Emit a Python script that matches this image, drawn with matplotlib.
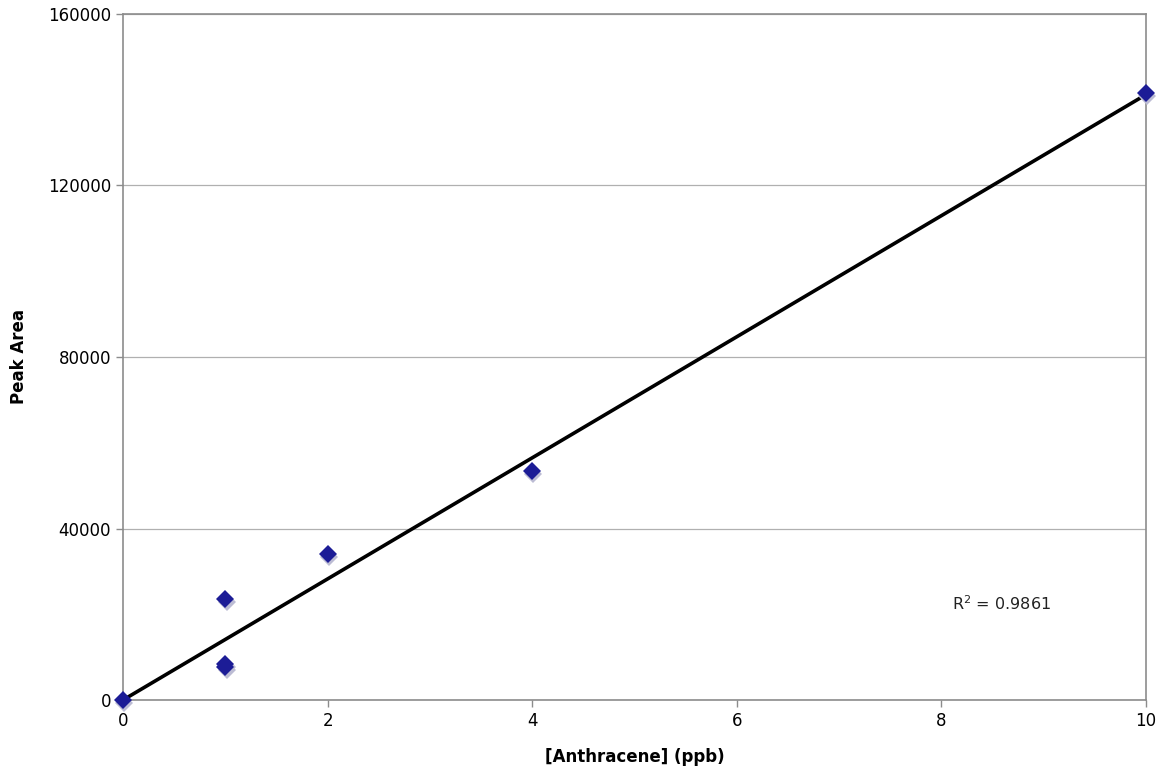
import numpy as np
import matplotlib.pyplot as plt

conc = [0, 1, 1, 1, 2, 4, 10]
area = [0, 23500, 8500, 7800, 34000, 53500, 141500]
r2_text = 'R$^2$ = 0.9861'

x = np.array(conc, dtype=float)
y = np.array(area, dtype=float)
slope = (x * y).sum() / (x * x).sum()

fig = plt.figure(figsize=(11.64, 7.74), dpi=100)
ax = fig.add_axes([123 / 1164, 74 / 774, 1023 / 1164, 686 / 774])

ax.set_xlim(0, 10)
ax.set_ylim(0, 160000)
ax.set_xticks([0, 2, 4, 6, 8, 10])
ax.set_yticks([0, 40000, 80000, 120000, 160000])
ax.yaxis.grid(True, color='#b0b0b0', linewidth=0.9)
ax.set_axisbelow(True)

for s in ax.spines.values():
    s.set_color('#8c8c8c')
    s.set_linewidth(1.2)
ax.tick_params(colors='#8c8c8c', labelcolor='black', labelsize=12,
               length=5, width=1.0, direction='out')

xs = np.array([0, 10])
ax.plot(xs, slope * xs, color='black', linewidth=2.6, zorder=3, clip_on=False)

# shadow then markers
ax.plot(x + 0.012, y - 700, 'D', color='#bcbcd4', markersize=9,
        markeredgewidth=0, zorder=4, clip_on=False)
ax.plot(x, y, 'D', color='#1c1c96', markersize=9,
        markeredgewidth=0, zorder=5, clip_on=False)

ax.text(8.1, 21000, r2_text, fontsize=11.5, color='#222222')

ax.set_xlabel('[Anthracene] (ppb)', fontsize=12, fontweight='bold', labelpad=13)
ax.set_ylabel('Peak Area', fontsize=12, fontweight='bold', labelpad=14)

fig.savefig('out.png', dpi=100)
